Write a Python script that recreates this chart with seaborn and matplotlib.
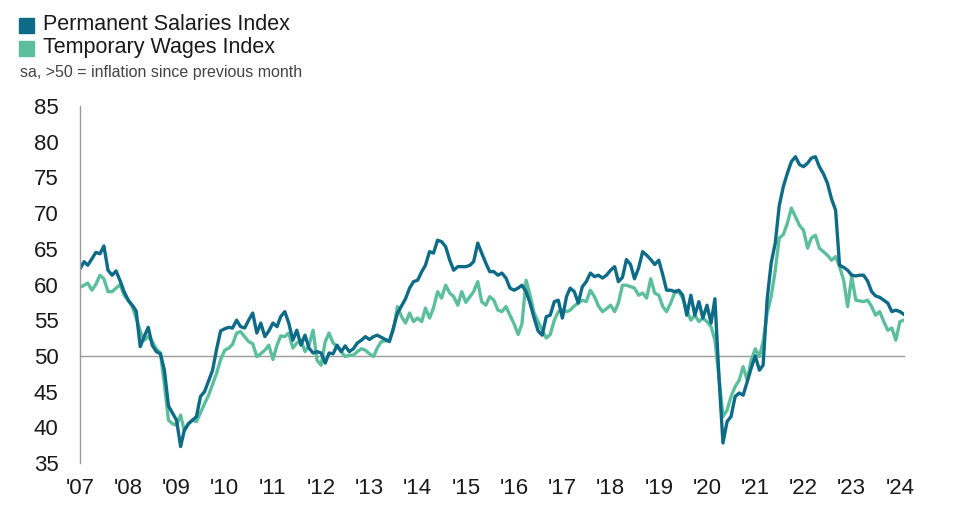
import pandas as pd
import numpy as np
import seaborn as sns
import matplotlib.pyplot as plt
from matplotlib.patches import Rectangle

# monthly readings, Jan 2007 - Feb 2024
permanent = [
    62.2, 63.2, 62.7, 63.6, 64.5, 64.3, 65.4, 62.0, 61.3, 61.9, 60.5, 59.0,   # 2007
    57.8, 57.1, 56.3, 51.3, 52.7, 54.0, 51.5, 50.6, 50.3, 48.0, 43.0, 42.0,   # 2008
    41.0, 37.3, 39.6, 40.5, 41.0, 41.5, 44.3, 45.0, 46.5, 48.0, 51.0, 53.5,   # 2009
    53.8, 54.0, 53.9, 55.0, 54.1, 53.9, 55.0, 56.0, 53.2, 54.6, 52.7, 53.5,   # 2010
    54.6, 54.1, 55.5, 56.2, 54.6, 52.2, 53.6, 51.5, 52.9, 51.1, 50.4, 50.6,   # 2011
    50.4, 49.0, 50.4, 50.3, 51.5, 50.6, 51.4, 50.6, 51.0, 51.8, 52.2, 52.7,   # 2012
    52.3, 52.7, 52.9, 52.6, 52.3, 52.0, 53.9, 56.0, 57.0, 58.0, 59.5, 60.4,   # 2013
    60.6, 61.8, 62.7, 64.6, 64.4, 66.2, 66.0, 65.3, 63.4, 62.0, 62.5, 62.5,   # 2014
    62.5, 62.7, 63.2, 65.8, 64.4, 63.0, 61.8, 61.8, 61.3, 61.6, 60.9, 59.5,   # 2015
    59.2, 59.5, 59.9, 59.0, 57.4, 55.3, 53.5, 52.9, 55.5, 55.7, 57.6, 57.8,   # 2016
    55.3, 58.3, 59.5, 59.0, 57.4, 59.7, 60.4, 61.6, 61.1, 61.3, 60.9, 61.3,   # 2017
    62.0, 62.5, 60.4, 61.0, 63.5, 62.8, 60.8, 62.3, 64.6, 64.1, 63.5, 62.8,   # 2018
    63.4, 61.3, 59.2, 59.2, 59.0, 59.2, 58.5, 55.7, 58.5, 55.7, 57.6, 55.3,   # 2019
    57.1, 54.6, 58.0, 47.0, 37.8, 40.8, 41.5, 44.3, 44.8, 44.5, 46.4, 48.3,   # 2020
    50.0, 48.0, 48.7, 58.0, 63.0, 65.8, 71.0, 73.7, 75.6, 77.2, 77.9, 76.8,   # 2021
    76.5, 77.0, 77.7, 77.9, 76.5, 75.5, 74.2, 72.0, 70.4, 62.7, 62.4, 62.0,   # 2022
    61.3, 61.2, 61.3, 61.3, 60.5, 59.0, 58.4, 58.2, 57.8, 57.4, 56.2, 56.4,   # 2023
    56.2, 55.8,                                                               # 2024
]
temporary = [
    59.6, 59.9, 60.2, 59.2, 60.0, 61.3, 60.8, 59.0, 59.0, 59.5, 60.0, 58.5,   # 2007
    57.8, 56.9, 55.3, 53.5, 52.2, 52.7, 52.0, 51.0, 50.4, 46.0, 41.0, 40.5,   # 2008
    40.3, 41.7, 39.5, 40.5, 41.0, 40.8, 42.0, 43.3, 44.5, 46.0, 47.6, 49.5,   # 2009
    50.8, 51.1, 51.6, 53.2, 53.4, 52.7, 52.0, 51.7, 49.9, 50.3, 50.8, 51.5,   # 2010
    49.5, 51.5, 52.8, 52.7, 53.2, 51.1, 51.8, 52.2, 50.6, 51.5, 53.6, 49.4,   # 2011
    48.7, 52.0, 53.2, 51.8, 51.3, 50.6, 49.9, 50.1, 50.1, 50.6, 51.0, 50.8,   # 2012
    50.3, 49.9, 51.1, 52.0, 52.1, 52.2, 53.6, 56.9, 55.5, 54.6, 56.0, 54.8,   # 2013
    55.3, 54.8, 56.7, 55.3, 56.7, 59.0, 58.1, 59.9, 58.8, 58.3, 57.1, 59.0,   # 2014
    57.5, 58.3, 59.0, 60.4, 57.6, 57.1, 58.3, 57.8, 56.4, 56.2, 56.9, 55.7,   # 2015
    54.5, 53.0, 54.5, 60.6, 58.5, 56.0, 54.8, 53.6, 52.5, 53.0, 55.0, 56.2,   # 2016
    56.4, 56.2, 56.4, 57.0, 57.4, 57.8, 57.6, 59.2, 58.3, 57.0, 56.2, 56.6,   # 2017
    57.1, 56.2, 57.4, 59.9, 59.9, 59.7, 59.5, 58.5, 58.8, 58.1, 60.8, 58.8,   # 2018
    58.5, 56.9, 56.2, 57.4, 58.8, 59.0, 58.1, 56.4, 55.0, 55.7, 54.8, 55.3,   # 2019
    54.8, 54.1, 52.2, 47.0, 41.5, 42.4, 44.3, 45.7, 46.6, 48.5, 46.6, 49.4,   # 2020
    51.0, 49.9, 52.0, 56.0, 58.3, 62.0, 66.5, 67.0, 68.6, 70.7, 69.5, 68.3,   # 2021
    67.6, 65.1, 66.5, 66.9, 65.1, 64.6, 64.1, 63.4, 63.9, 62.5, 60.6, 56.9,   # 2022
    61.1, 57.8, 57.7, 57.6, 57.8, 56.9, 55.7, 56.2, 54.8, 53.6, 53.9, 52.2,   # 2023
    54.8, 55.0,                                                               # 2024
]
dates = pd.date_range('2007-01-01', periods=len(permanent), freq='MS')
years = list(range(2007, 2025))
year_labels = ["'%02d" % (y % 100) for y in years]

perm_name = 'Permanent Salaries Index'
temp_name = 'Temporary Wages Index'
perm_col = '#0e6b87'
temp_col = '#5bbf9d'

df = pd.DataFrame({'date': np.concatenate([dates, dates]),
                   'value': permanent + temporary,
                   'series': [perm_name] * len(dates) + [temp_name] * len(dates)})

sns.set_style('white')
plt.rcParams['font.family'] = ['Liberation Sans', 'DejaVu Sans']

fig = plt.figure(figsize=(9.59, 5.30), dpi=100)
ax = fig.add_axes([80 / 959, 1 - 463 / 530, 824 / 959, 357 / 530])

# temporary underneath, permanent on top
sns.lineplot(data=df, x='date', y='value', hue='series', hue_order=[temp_name, perm_name],
             palette={perm_name: perm_col, temp_name: temp_col}, linewidth=2.4,
             legend=False, ax=ax)
for ln in ax.lines:
    ln.set_solid_joinstyle('round')
    ln.set_solid_capstyle('round')

ax.set_ylim(35, 85)
ax.set_yticks(range(35, 90, 5))
ax.set_xlim(dates[0], dates[-1])
ax.set_xlabel('')
ax.set_ylabel('')

for s in ['top', 'right']:
    ax.spines[s].set_visible(False)
ax.spines['left'].set_color('#9a9a9a')
ax.spines['left'].set_linewidth(1.0)
ax.spines['bottom'].set_position(('data', 50))
ax.spines['bottom'].set_color('#9a9a9a')
ax.spines['bottom'].set_linewidth(1.0)
ax.spines['bottom'].set_zorder(0.5)

ticks = pd.to_datetime(['%d-01-01' % y for y in years])
ax.set_xticks(ticks)
ax.tick_params(axis='x', direction='out', length=5, width=1, color='#9a9a9a', labelbottom=False)
ax.tick_params(axis='y', direction='out', length=6.5, width=1, color='#9a9a9a',
               labelsize=16, labelcolor='#1a1a1a', pad=9)

sec = ax.secondary_xaxis('bottom')
sec.set_xticks(ticks)
sec.set_xticklabels(year_labels)
sec.spines['bottom'].set_visible(False)
sec.tick_params(axis='x', length=0, labelsize=16, labelcolor='#1a1a1a', pad=11)

# legend and note
fig.patches.append(Rectangle((19 / 959, 1 - 33 / 530), 15 / 959, 15 / 530,
                             transform=fig.transFigure, color=perm_col))
fig.patches.append(Rectangle((19 / 959, 1 - 56 / 530), 15 / 959, 15 / 530,
                             transform=fig.transFigure, color=temp_col))
fig.text(43 / 959, 1 - 25 / 530, perm_name, fontsize=15.5, color='#1a1a1a', va='center')
fig.text(43 / 959, 1 - 48 / 530, temp_name, fontsize=15.5, color='#1a1a1a', va='center')
fig.text(20 / 959, 1 - 73 / 530, 'sa, >50 = inflation since previous month',
         fontsize=11.5, color='#444444', va='center')

fig.savefig('out.png', dpi=100)
